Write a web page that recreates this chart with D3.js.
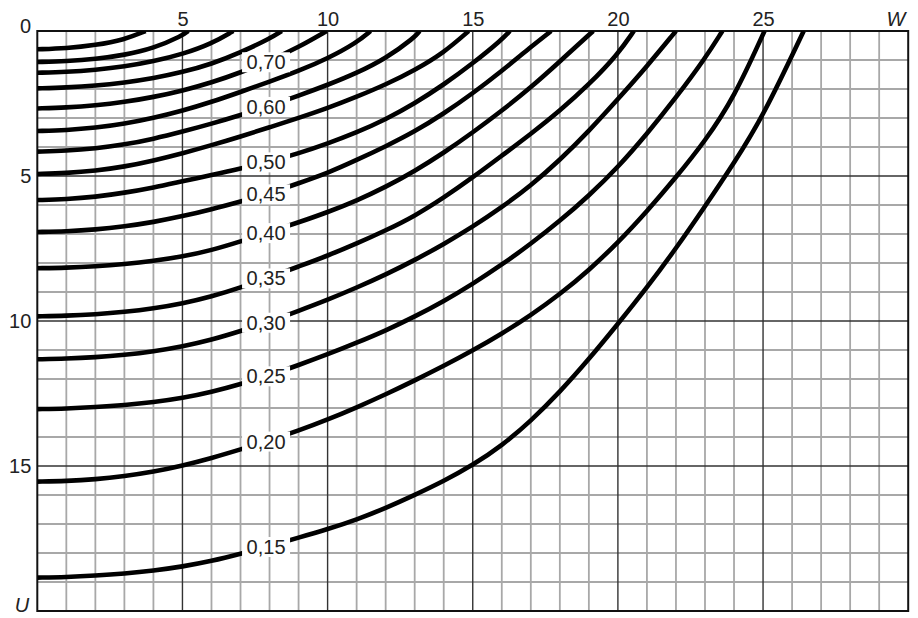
<!DOCTYPE html>
<html>
<head>
<meta charset="utf-8">
<script src="https://cdn.jsdelivr.net/npm/d3@7"></script>
<style>
  body { margin: 0; background: #fff; }
  svg { display: block; }
  text { font-family: "Liberation Sans", Arial, sans-serif; fill: #222; }
</style>
</head>
<body>
<svg id="chart" width="918" height="618"></svg>
<script>
// curves, [W, U]
const k090 = [[0,0.63],[1,0.6],[2,0.49],[3,0.3],[3.73,0]];
const k085 = [[0,1.07],[1,1.04],[2,0.97],[3,0.83],[4,0.6],[5,0.16],[5.2,0]];
const k080 = [[0,1.44],[1,1.41],[2,1.34],[3,1.23],[4,1.05],[5,0.8],[6,0.44],[6.75,0]];
const k075 = [[0,1.98],[1,1.95],[2,1.89],[3,1.78],[4,1.63],[5,1.42],[6,1.14],[7,0.74],[8,0.27],[8.42,0]];
const k070 = [[0,2.67],[1,2.64],[2,2.57],[3,2.45],[4,2.28],[5,2.06],[6,1.78],[7,1.43],[8,1.03],[9,0.56],[9.97,0]];
const k065 = [[0,3.45],[1,3.42],[2,3.34],[3,3.2],[4,3.0],[5,2.75],[6,2.45],[7,2.1],[8,1.75],[9,1.38],[10,0.95],[11,0.4],[11.48,0]];
const k060 = [[0,4.16],[1,4.13],[2,4.05],[3,3.92],[4,3.72],[5,3.47],[6,3.2],[7,2.9],[8,2.58],[9,2.23],[10,1.86],[11,1.45],[12,0.95],[13,0.22],[13.17,0]];
const k055 = [[0,4.93],[1,4.9],[2,4.82],[3,4.68],[4,4.47],[5,4.22],[6,3.94],[7,3.64],[8,3.32],[9,3.0],[10,2.66],[11,2.27],[12,1.85],[13,1.35],[14,0.75],[14.86,0]];
const k050 = [[0,5.83],[1,5.8],[2,5.72],[3,5.58],[4,5.4],[5,5.18],[6,4.97],[7,4.75],[8,4.5],[9,4.22],[10,3.88],[11,3.5],[12,3.05],[13,2.5],[14,1.85],[15,1.12],[16,0.3],[16.28,0]];
const k045 = [[0,6.93],[1,6.91],[2,6.85],[3,6.74],[4,6.59],[5,6.39],[6,6.15],[7,5.88],[8,5.6],[9,5.25],[10,4.9],[11,4.45],[12,3.98],[13,3.47],[14,2.85],[15,2.15],[16,1.38],[17,0.55],[17.7,0]];
const k040 = [[0,8.18],[1,8.165],[2,8.12],[3,8.04],[4,7.93],[5,7.78],[6,7.56],[7,7.26],[8,6.93],[9,6.6],[10,6.25],[11,5.85],[12,5.38],[13,4.83],[14,4.2],[15,3.5],[16,2.75],[17,1.95],[18,1.05],[19.15,0]];
const k035 = [[0,9.84],[1,9.82],[2,9.77],[3,9.69],[4,9.57],[5,9.4],[6,9.16],[7,8.85],[8,8.49],[9,8.12],[10,7.75],[11,7.33],[12,6.88],[13,6.38],[14,5.75],[15,5.05],[16,4.3],[17,3.55],[18,2.75],[19,1.85],[20,0.8],[20.55,0]];
const k030 = [[0,11.32],[1,11.3],[2,11.25],[3,11.17],[4,11.05],[5,10.88],[6,10.65],[7,10.35],[8,10.02],[9,9.65],[10,9.27],[11,8.85],[12,8.4],[13,7.9],[14,7.35],[15,6.75],[16,6.08],[17,5.33],[18,4.45],[19,3.45],[20,2.35],[21,1.22],[22,0]];
const k025 = [[0,13.04],[1,13.02],[2,12.97],[3,12.9],[4,12.8],[5,12.66],[6,12.45],[7,12.18],[8,11.87],[9,11.52],[10,11.15],[11,10.75],[12,10.33],[13,9.85],[14,9.32],[15,8.72],[16,8.06],[17,7.34],[18,6.55],[19,5.68],[20,4.7],[21,3.55],[22,2.3],[23,0.95],[23.6,0]];
const k020 = [[0,15.54],[1,15.52],[2,15.46],[3,15.35],[4,15.2],[5,14.99],[6,14.73],[7,14.43],[8,14.12],[9,13.78],[10,13.4],[11,12.98],[12,12.53],[13,12.05],[14,11.55],[15,11.02],[16,10.44],[17,9.8],[18,9.08],[19,8.25],[20,7.3],[21,6.22],[22,5.05],[23,3.8],[24,2.3],[25.05,0]];
const k015 = [[0,18.85],[1,18.83],[2,18.78],[3,18.71],[4,18.61],[5,18.47],[6,18.28],[7,18.03],[8,17.76],[9,17.47],[10,17.18],[11,16.85],[12,16.45],[13,16.0],[14,15.52],[15,14.97],[16,14.3],[17,13.45],[18,12.45],[19,11.32],[20,10.1],[21,8.85],[22,7.5],[23,6.05],[24,4.55],[25,2.95],[26.4,0]];

const curveData = [k090, k085, k080, k075, k070, k065, k060, k055, k050, k045, k040, k035, k030, k025, k020, k015];
const curveNames = ["0,90","0,85","0,80","0,75","0,70","0,65","0,60","0,55","0,50","0,45","0,40","0,35","0,30","0,25","0,20","0,15"];
const labelled = ["0,70","0,60","0,50","0,45","0,40","0,35","0,30","0,25","0,20","0,15"];

const xTicks = [5, 10, 15, 20, 25];
const yTicks = [5, 10, 15];
const labelW = 7.88;

const svg = d3.select("#chart");
const x = d3.scaleLinear().domain([0, 30]).range([37.3, 908.2]);
const y = d3.scaleLinear().domain([0, 20]).range([31, 611]);

svg.append("rect").attr("width", 918).attr("height", 618).attr("fill", "#fff");

// grid
const minor = d3.range(1, 30).filter(d => d % 5 !== 0);
const minorY = d3.range(1, 20).filter(d => d % 5 !== 0);
const grid = svg.append("g");
grid.selectAll(".vmin").data(minor).enter().append("line")
  .attr("x1", d => x(d)).attr("x2", d => x(d)).attr("y1", y(0)).attr("y2", y(20))
  .attr("stroke", "#a8a8a8").attr("stroke-width", 1.8);
grid.selectAll(".hmin").data(minorY).enter().append("line")
  .attr("x1", x(0)).attr("x2", x(30)).attr("y1", d => y(d)).attr("y2", d => y(d))
  .attr("stroke", "#a8a8a8").attr("stroke-width", 1.8);
grid.selectAll(".vmaj").data(xTicks).enter().append("line")
  .attr("x1", d => x(d)).attr("x2", d => x(d)).attr("y1", y(0)).attr("y2", y(20))
  .attr("stroke", "#333").attr("stroke-width", 1.4);
grid.selectAll(".hmaj").data(yTicks).enter().append("line")
  .attr("x1", x(0)).attr("x2", x(30)).attr("y1", d => y(d)).attr("y2", d => y(d))
  .attr("stroke", "#333").attr("stroke-width", 1.4);

// frame
svg.append("rect")
  .attr("x", x(0)).attr("y", y(0))
  .attr("width", x(30) - x(0)).attr("height", y(20) - y(0))
  .attr("fill", "none").attr("stroke", "#111").attr("stroke-width", 2);

// curves
svg.append("clipPath").attr("id", "plot").append("rect")
  .attr("x", x(0)).attr("y", y(0))
  .attr("width", x(30) - x(0)).attr("height", y(20) - y(0));

const line = d3.line()
  .x(d => x(d[0]))
  .y(d => y(d[1]))
  .curve(d3.curveBasis);

svg.append("g").attr("clip-path", "url(#plot)")
  .selectAll("path").data(curveData).enter().append("path")
  .attr("d", line)
  .attr("fill", "none")
  .attr("stroke", "#000")
  .attr("stroke-width", 4.6);

// labels on the curves
function uAt(pts, w) {
  for (let i = 1; i < pts.length; i++) {
    if (pts[i][0] >= w) {
      const t = (w - pts[i - 1][0]) / (pts[i][0] - pts[i - 1][0]);
      return pts[i - 1][1] + t * (pts[i][1] - pts[i - 1][1]);
    }
  }
  return 0;
}

const labs = svg.append("g").selectAll("g")
  .data(curveNames.map((n, i) => ({ name: n, pts: curveData[i] })).filter(d => labelled.includes(d.name)))
  .enter().append("g")
  .attr("transform", d => `translate(${x(labelW)},${y(uAt(d.pts, labelW))})`);

labs.append("rect")
  .attr("x", -24).attr("y", -10).attr("width", 48).attr("height", 20)
  .attr("fill", "#fff");
labs.append("text")
  .attr("text-anchor", "middle")
  .attr("dy", "0.35em")
  .style("font-size", "20px")
  .text(d => d.name);

// axes
const axTop = svg.append("g").attr("transform", `translate(0,${y(0)})`)
  .call(d3.axisTop(x).tickValues(xTicks).tickSize(0).tickPadding(5));
const axLeft = svg.append("g").attr("transform", `translate(${x(0)},0)`)
  .call(d3.axisLeft(y).tickValues(yTicks).tickSize(0).tickPadding(6));
[axTop, axLeft].forEach(g => {
  g.select(".domain").remove();
  g.selectAll("text").style("font-size", "20px").attr("fill", "#222")
    .style("font-family", '"Liberation Sans", Arial, sans-serif');
});

svg.append("text").attr("x", 31).attr("y", 33).attr("text-anchor", "end")
  .style("font-size", "20px").text("0");
svg.append("text").attr("x", 896).attr("y", 26).attr("text-anchor", "middle")
  .style("font-size", "20px").style("font-style", "italic").text("W");
svg.append("text").attr("x", 22).attr("y", 612).attr("text-anchor", "middle")
  .style("font-size", "20px").style("font-style", "italic").text("U");
</script>
</body>
</html>
